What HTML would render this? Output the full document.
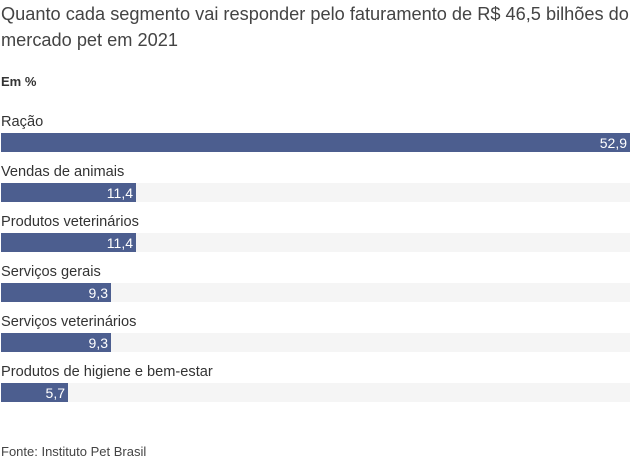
<!DOCTYPE html>
<html><head><style>
body{margin:0;width:630px;height:473px;background:#fff;font-family:"Liberation Sans",sans-serif;color:#333;position:relative;overflow:hidden}
.t{position:absolute;left:1px;top:1px;font-size:18.2px;line-height:26px;color:#444;width:629px;white-space:nowrap}
.em{position:absolute;left:1px;top:74px;font-size:13px;font-weight:bold;color:#333}
.l{position:absolute;left:1px;font-size:14.6px;color:#333}
.tr{position:absolute;left:1px;width:629px;height:19px;background:#f5f5f5}
.b{position:absolute;left:0;top:0;height:19px;background:#4c5e8f;color:#fff;font-size:14px;line-height:20px;text-align:right;box-sizing:border-box;padding-right:3px}
.f{position:absolute;left:1px;top:444px;font-size:13px;color:#444}
</style></head><body>
<div class="t">Quanto cada segmento vai responder pelo faturamento de R$ 46,5 bilhões do<br>mercado pet em 2021</div>
<div class="em">Em %</div>
<div class="l" style="top:114px">Ração</div>
<div class="tr" style="top:133px"><div class="b" style="width:629px">52,9</div></div>
<div class="l" style="top:164px">Vendas de animais</div>
<div class="tr" style="top:183px"><div class="b" style="width:135px">11,4</div></div>
<div class="l" style="top:214px">Produtos veterinários</div>
<div class="tr" style="top:233px"><div class="b" style="width:135px">11,4</div></div>
<div class="l" style="top:264px">Serviços gerais</div>
<div class="tr" style="top:283px"><div class="b" style="width:110px">9,3</div></div>
<div class="l" style="top:314px">Serviços veterinários</div>
<div class="tr" style="top:333px"><div class="b" style="width:110px">9,3</div></div>
<div class="l" style="top:364px">Produtos de higiene e bem-estar</div>
<div class="tr" style="top:383px"><div class="b" style="width:67px">5,7</div></div>
<div class="f">Fonte: Instituto Pet Brasil</div>
</body></html>
